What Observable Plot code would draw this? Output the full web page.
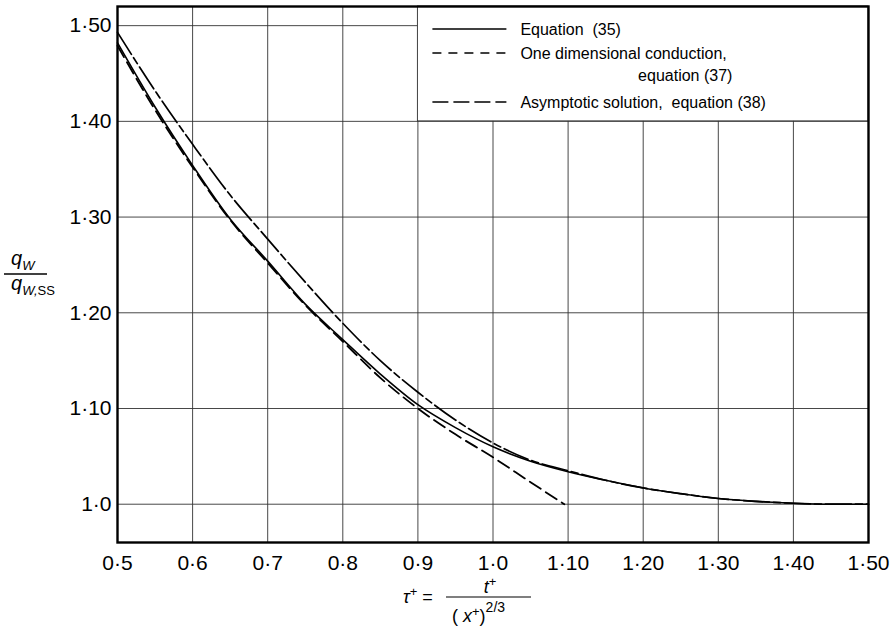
<!DOCTYPE html>
<html>
<head>
<meta charset="utf-8">
<script src="https://cdn.jsdelivr.net/npm/d3@7"></script>
<script src="https://cdn.jsdelivr.net/npm/@observablehq/plot@0.6"></script>
<style>
  html, body { margin: 0; padding: 0; background: #fff; }
  #chart { width: 890px; height: 630px; }
  svg { font-family: "Liberation Sans", Arial, sans-serif; }
</style>
</head>
<body>
<div id="chart"></div>
<script>
// ---- data ----
const xTicks = [0.5, 0.6, 0.7, 0.8, 0.9, 1.0, 1.1, 1.2, 1.3, 1.4, 1.5];
const xTickLabels = ["0·5", "0·6", "0·7", "0·8", "0·9", "1·0", "1·10", "1·20", "1·30", "1·40", "1·50"];
const yTicks = [1.0, 1.1, 1.2, 1.3, 1.4, 1.5];
const yTickLabels = ["1·0", "1·10", "1·20", "1·30", "1·40", "1·50"];

// Equation (35) — solid
const eq35Tau = [0.5, 0.55, 0.6, 0.65, 0.7, 0.75, 0.8, 0.85, 0.9, 0.95, 1.0, 1.05, 1.1, 1.15, 1.2, 1.25, 1.3, 1.35, 1.4, 1.45, 1.5];
const eq35Q   = [1.482, 1.415, 1.354, 1.298, 1.254, 1.209, 1.172, 1.136, 1.104, 1.080, 1.060, 1.045, 1.034, 1.025, 1.017, 1.011, 1.006, 1.003, 1.001, 1.000, 1.000];

// One dimensional conduction, equation (37) — dashed
const oneDTau = [0.5, 0.55, 0.6, 0.65, 0.7, 0.75, 0.8, 0.85, 0.9, 0.95, 1.0, 1.05, 1.095];
const oneDQ   = [1.479, 1.412, 1.352, 1.297, 1.252, 1.208, 1.170, 1.132, 1.100, 1.073, 1.049, 1.023, 1.000];

// Asymptotic solution, equation (38) — long dash
const asymTau = [0.5, 0.55, 0.6, 0.65, 0.7, 0.75, 0.8, 0.85, 0.9, 0.95, 1.0, 1.05, 1.1, 1.15, 1.2, 1.25, 1.3, 1.35, 1.4, 1.45, 1.5];
const asymQ   = [1.493, 1.432, 1.376, 1.323, 1.277, 1.232, 1.189, 1.150, 1.117, 1.088, 1.064, 1.046, 1.035, 1.025, 1.017, 1.011, 1.006, 1.003, 1.001, 1.000, 1.000];

const seriesNames = ["Equation  (35)", "One dimensional conduction,", "Asymptotic solution,  equation (38)"];

// legend box spans grid cells (data units)
const legendBox = [{x1: 0.9, x2: 1.5, y1: 1.40, y2: 1.52}];

const xDomain = [0.5, 1.5];
const yDomain = [0.96, 1.52];

// ---- build tables ----
const toRows = (xs, ys) => xs.map((x, i) => ({tau: x, q: ys[i]}));
const eq35 = toRows(eq35Tau, eq35Q);
const oneD = toRows(oneDTau, oneDQ);
const asym = toRows(asymTau, asymQ);
const xLab = new Map(xTicks.map((t, i) => [t, xTickLabels[i]]));
const yLab = new Map(yTicks.map((t, i) => [t, yTickLabels[i]]));

const gridColor = "#333";

const plot = Plot.plot({
  width: 890,
  height: 630,
  marginLeft: 117,
  marginRight: 22,
  marginTop: 6,
  marginBottom: 88,
  style: {fontFamily: "Liberation Sans, Arial, sans-serif", background: "#fff"},
  x: {domain: xDomain},
  y: {domain: yDomain},
  marks: [
    Plot.ruleX(xTicks.slice(1, -1), {stroke: gridColor, strokeWidth: 0.9}),
    Plot.ruleY(yTicks, {stroke: gridColor, strokeWidth: 0.9}),
    Plot.rect(legendBox, {x1: "x1", x2: "x2", y1: "y1", y2: "y2", fill: "white", stroke: gridColor, strokeWidth: 0.9}),
    Plot.line(asym, {x: "tau", y: "q", stroke: "black", strokeWidth: 1.7, strokeDasharray: "26,4,7,4", curve: "monotone-x"}),
    Plot.line(eq35, {x: "tau", y: "q", stroke: "black", strokeWidth: 1.6, curve: "monotone-x"}),
    Plot.line(oneD, {x: "tau", y: "q", stroke: "black", strokeWidth: 1.8, strokeDasharray: "13,6", curve: "monotone-x"}),
    Plot.frame({stroke: "black", strokeWidth: 2.4}),
    Plot.axisX(xTicks, {tickSize: 0, tickPadding: 13, fontSize: 21, tickFormat: d => xLab.get(d), label: null}),
    Plot.axisY(yTicks, {tickSize: 0, tickPadding: 6, fontSize: 21, tickFormat: d => yLab.get(d), label: null})
  ]
});

document.getElementById("chart").appendChild(plot);

// ---- decorations: legend and axis titles ----
const svg = d3.select(plot);
const sx = plot.scale("x");
const gx = sx.apply(0.9);
const lx0 = gx + 15, lx1 = gx + 89, tx = gx + 103;
const rows = [
  {y: 29, dash: null},
  {y: 53, dash: "9,7"},
  {y: 102, dash: "16,5,16,5"}
];
const leg = svg.append("g").attr("font-size", 16).attr("fill", "black").attr("text-anchor", "start");
rows.forEach((r, i) => {
  leg.append("line").attr("x1", lx0).attr("x2", lx1).attr("y1", r.y).attr("y2", r.y)
    .attr("stroke", "black").attr("stroke-width", 1.3)
    .attr("stroke-dasharray", r.dash);
  leg.append("text").attr("x", tx).attr("y", r.y).attr("dy", "0.35em")
    .attr("text-anchor", "start")
    .style("white-space", "pre").text(seriesNames[i]);
});
leg.append("text").attr("x", tx + 212).attr("y", 75).attr("dy", "0.35em")
  .attr("text-anchor", "end").text("equation (37)");

// y-axis title: q_w / q_w,ss
const yt = svg.append("g").attr("font-style", "italic").attr("fill", "black").attr("text-anchor", "start");
const t1 = yt.append("text").attr("x", 11).attr("y", 265).attr("font-size", 20).attr("text-anchor", "start");
t1.append("tspan").text("q");
t1.append("tspan").attr("dy", 5).attr("font-size", 13).text("W");
yt.append("line").attr("x1", 4).attr("x2", 47).attr("y1", 274).attr("y2", 274)
  .attr("stroke", "black").attr("stroke-width", 1.3);
const t2 = yt.append("text").attr("x", 11).attr("y", 290).attr("font-size", 20).attr("text-anchor", "start");
t2.append("tspan").text("q");
t2.append("tspan").attr("dy", 5).attr("font-size", 13).text("W,");
t2.append("tspan").attr("font-style", "normal").attr("font-size", 13).text("SS");

// x-axis title: tau+ = t+ / (x+)^(2/3)
const xt = svg.append("g").attr("fill", "black").attr("text-anchor", "start");
const a = xt.append("text").attr("x", 403).attr("y", 603).attr("font-size", 18).attr("text-anchor", "start");
a.append("tspan").attr("font-style", "italic").text("τ");
a.append("tspan").attr("dy", -7).attr("font-size", 13).text("+");
a.append("tspan").attr("dy", 7).text(" =");
xt.append("line").attr("x1", 446).attr("x2", 531).attr("y1", 597).attr("y2", 597)
  .attr("stroke", "black").attr("stroke-width", 1.2);
const n = xt.append("text").attr("x", 490).attr("y", 593).attr("font-size", 18).attr("text-anchor", "middle");
n.append("tspan").attr("font-style", "italic").text("t");
n.append("tspan").attr("dy", -7).attr("font-size", 13).text("+");
const dd = xt.append("text").attr("x", 452).attr("y", 622).attr("font-size", 18).attr("text-anchor", "start");
dd.append("tspan").text("(");
dd.append("tspan").attr("font-style", "italic").text(" x");
dd.append("tspan").attr("dy", -6).attr("font-size", 13).text("+");
dd.append("tspan").attr("dy", 6).text(")");
dd.append("tspan").attr("dy", -10).attr("font-size", 14).text("2/3");
</script>
</body>
</html>
